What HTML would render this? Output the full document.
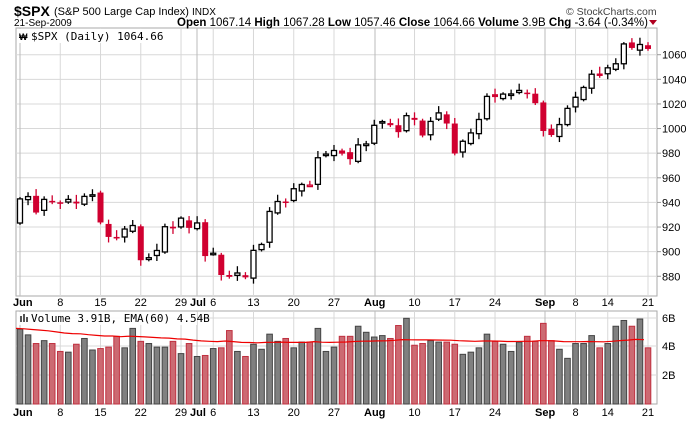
<!DOCTYPE html>
<html><head><meta charset="utf-8"><style>
body{margin:0;background:#fff;}
svg{display:block;font-family:"Liberation Sans",Arial,sans-serif;}
</style></head><body>
<svg id="c" width="700" height="421" xmlns="http://www.w3.org/2000/svg"></svg>
<script>
const closes=[942.87,944.74,931.76,942.46,940.09,939.14,942.43,939.15,944.89,946.21,923.72,911.97,910.71,918.37,921.23,893.04,895.10,900.94,920.26,918.90,927.23,919.32,923.33,896.42,898.72,881.03,879.56,882.68,879.13,901.05,905.84,932.68,940.74,940.38,951.13,954.58,954.07,976.29,979.26,982.18,979.62,975.15,986.75,987.48,1002.63,1005.65,1002.72,997.08,1010.48,1007.10,994.35,1005.81,1012.73,1004.09,979.73,989.67,996.46,1007.37,1026.13,1025.57,1028.00,1028.12,1030.98,1028.93,1020.62,998.04,994.75,1003.24,1016.40,1025.39,1033.37,1044.14,1042.73,1049.34,1052.63,1068.76,1065.49,1068.30,1064.66];
const vols=[5.2,4.8,4.2,4.4,4.2,3.65,3.6,4.15,4.55,3.75,3.85,3.95,4.7,3.9,5.25,4.35,4.2,3.95,3.95,4.35,3.5,4.2,3.3,3.37,3.85,3.9,5.1,3.65,3.3,4.15,3.8,4.85,4.35,4.55,3.9,4.3,4.3,5.25,3.65,3.95,4.7,4.7,5.4,4.98,4.65,4.75,4.55,5.45,5.95,4.08,4.2,4.4,4.3,4.3,4.15,3.45,3.6,3.9,4.85,4.35,4.15,3.65,4.3,4.7,4.35,5.6,4.4,3.8,3.17,4.2,4.2,4.75,3.9,4.2,5.4,5.8,5.4,5.9,3.9];
const vred=[0,0,1,0,1,1,0,1,0,0,1,1,1,0,0,1,0,0,0,1,0,1,0,1,0,1,1,0,1,0,0,0,0,1,0,0,1,0,0,0,1,1,0,0,0,0,1,1,0,1,1,0,0,1,1,0,0,0,0,1,0,0,0,1,1,1,1,0,0,0,0,0,1,0,0,0,1,0,1];
const N=closes.length;
const X=i=>20+i*628/(N-1);
const Y=p=>54.7+(1060-p)*1.231;
const VY=v=>404-v*14.4;
let s='';
s+='<rect x="16" y="28" width="641" height="268" fill="#fff" stroke="#aaa"/>';
s+='<rect x="16" y="311" width="641" height="93" fill="#fff" stroke="#aaa"/>';
for(let p=880;p<=1060;p+=20){const y=Y(p);s+=`<line x1="16" x2="657" y1="${y}" y2="${y}" stroke="#d8d8d8"/>`;s+=`<line x1="657" x2="661" y1="${y}" y2="${y}" stroke="#999"/><text x="662" y="${y+4}" font-size="11" fill="#000">${p}</text>`;}
[[6,318],[4,346],[2,375]].forEach(([v,y])=>{s+=`<line x1="16" x2="657" y1="${y}" y2="${y}" stroke="#d8d8d8"/><text x="662" y="${y+4}" font-size="11">${v}B</text>`;});
const labs=[[5,'8'],[10,'15'],[15,'22'],[20,'29'],[24,'6'],[29,'13'],[34,'20'],[39,'27'],[49,'10'],[54,'17'],[59,'24'],[69,'8'],[73,'14'],[78,'21']];
const months=[[0,'Jun',20,13],[22,'Jul',197,190],[44,'Aug',375,364],[65,'Sep',545,535]];
labs.forEach(([i,t])=>{const x=X(i);s+=`<line x1="${x}" x2="${x}" y1="28" y2="296" stroke="#d8d8d8"/><line x1="${x}" x2="${x}" y1="311" y2="404" stroke="#d8d8d8"/>`;
 s+=`<text x="${x}" y="306" font-size="11" text-anchor="middle">${t}</text><text x="${x}" y="416" font-size="11" text-anchor="middle">${t}</text>`;});
months.forEach(([i,t,x,lx])=>{s+=`<line x1="${x}" x2="${x}" y1="28" y2="296" stroke="#bbb"/><line x1="${x}" x2="${x}" y1="311" y2="404" stroke="#bbb"/>`;
 s+=`<text x="${lx}" y="306" font-size="11" font-weight="bold">${t}</text><text x="${lx}" y="416" font-size="11" font-weight="bold">${t}</text>`;});
for(let i=0;i<N;i++){
 const c=closes[i],o=i==0?923.26:closes[i-1]+((i*37)%7-3)*0.6;
 const hi=Math.max(o,c)+1.5+(i*7%5),lo=Math.min(o,c)-1.5-(i*3%6);
 const down=i>0&&c<closes[i-1];const col=down?'#d00030':'#000';
 const x=X(i);const yt=Y(Math.max(o,c)),yb=Y(Math.min(o,c));
 s+=`<line x1="${x}" x2="${x}" y1="${Y(hi)}" y2="${Y(lo)}" stroke="${col}" stroke-width="1.3"/>`;
 const h=Math.max(yb-yt,1.5);
 if(c>=o) s+=`<rect x="${x-2.5}" y="${yt}" width="5" height="${h}" fill="#fff" stroke="${col}" stroke-width="1.3"/>`;
 else s+=`<rect x="${x-3}" y="${yt}" width="6" height="${h}" fill="${col}"/>`;
}
for(let i=0;i<N;i++){const x=X(i),y=VY(vols[i]);
 s+=vred[i]?`<rect x="${x-2.8}" y="${y}" width="5.6" height="${404-y}" fill="#cc6a72" stroke="#c03040"/>`:`<rect x="${x-2.8}" y="${y}" width="5.6" height="${404-y}" fill="#808080" stroke="#444"/>`;}
let pts=[];let e=5.25;for(let i=0;i<N;i++){e=e+(vols[i]-e)*2/61*(i<40?1.6:1);pts.push(X(i)-4+','+VY(e).toFixed(1));}
s+=`<polyline points="${pts.join(' ')}" fill="none" stroke="#e00" stroke-width="1.2"/>`;
s+='<rect x="17" y="312" width="180" height="13" fill="#fff" opacity="0.9"/><text x="31" y="322" font-size="11" font-family="DejaVu Sans Mono,monospace">Volume 3.91B, EMA(60) 4.54B</text><rect x="20" y="316" width="2" height="6" fill="#555"/><rect x="23" y="314" width="2" height="8" fill="#555"/><rect x="26" y="317" width="2" height="5" fill="#555"/>';
s+='<rect x="17" y="29" width="140" height="14" fill="#fff"/><text x="31" y="40" font-size="11" font-family="DejaVu Sans Mono,monospace">$SPX (Daily) 1064.66</text><text x="19" y="40" font-size="9" font-weight="bold">₩</text>';
s+='<text x="14" y="16" font-size="14" font-weight="bold">$SPX</text><text x="54" y="15" font-size="11">(S&amp;P 500 Large Cap Index)</text><text x="192" y="15" font-size="10">INDX</text>';
s+='<text x="14" y="26" font-size="10">21-Sep-2009</text>';
s+='<text x="177" y="26" font-size="11.5"><tspan font-weight="bold">Open</tspan> 1067.14 <tspan font-weight="bold">High</tspan> 1067.28 <tspan font-weight="bold">Low</tspan> 1057.46 <tspan font-weight="bold">Close</tspan> 1064.66 <tspan font-weight="bold">Volume</tspan> 3.9B <tspan font-weight="bold">Chg</tspan> -3.64 (-0.34%)</text>';
s+='<polygon points="649,20 657,20 653,25" fill="#b00020"/>';
s+='<text x="566" y="15" font-size="10.5" fill="#444">© StockCharts.com</text>';
document.getElementById('c').innerHTML=s;
</script>
</body></html>
